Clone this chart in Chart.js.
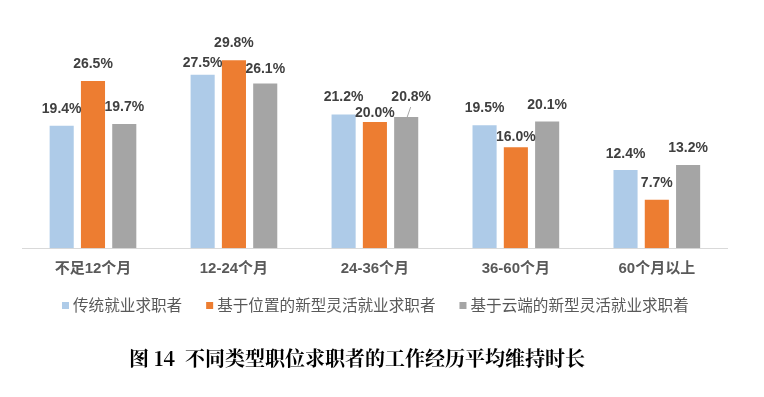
<!DOCTYPE html>
<html>
<head>
<meta charset="utf-8">
<script src="https://cdn.jsdelivr.net/npm/chart.js@4.4.1/dist/chart.umd.min.js"></script>
<style>
  html, body { margin: 0; padding: 0; background: #ffffff; }
  #wrap { width: 764px; height: 397px; position: relative; }
</style>
</head>
<body>
<div id="wrap"><canvas id="c"></canvas></div>
<script>
const categories = ['不足12个月', '12-24个月', '24-36个月', '36-60个月', '60个月以上'];
const seriesNames = ['传统就业求职者', '基于位置的新型灵活就业求职者', '基于云端的新型灵活就业求职着'];
const traditionalValues = [19.4, 27.5, 21.2, 19.5, 12.4];
const locationValues = [26.5, 29.8, 20.0, 16.0, 7.7];
const cloudValues = [19.7, 26.1, 20.8, 20.1, 13.2];
const chartTitle = '图 14  不同类型职位求职者的工作经历平均维持时长';

const colors = ['#AECBE8', '#ED7D31', '#A5A5A5'];

const labelPlugin = {
  id: 'barLabels',
  afterDatasetsDraw(chart) {
    const ctx = chart.ctx;
    const nudges = chart.options.plugins.barLabels.nudges;
    ctx.save();
    ctx.font = 'bold 14px "Liberation Sans", Arial, sans-serif';
    ctx.fillStyle = '#404040';
    ctx.textAlign = 'center';
    ctx.textBaseline = 'middle';
    chart.data.datasets.forEach((ds, di) => {
      const meta = chart.getDatasetMeta(di);
      meta.data.forEach((bar, i) => {
        const n = nudges[di + '-' + i] || {};
        const dy = n.dy !== undefined ? n.dy : 17;
        const dx = n.dx || 0;
        const lx = bar.x + dx;
        const ly = bar.y - dy;
        ctx.fillText(ds.data[i].toFixed(1) + '%', lx, ly);
        if (n.leader) {
          ctx.save();
          ctx.strokeStyle = '#A6A6A6';
          ctx.lineWidth = 1;
          ctx.beginPath();
          ctx.moveTo(lx - 0.5, ly + 10);
          ctx.lineTo(bar.x + 1, bar.y);
          ctx.stroke();
          ctx.restore();
        }
      });
    });
    ctx.restore();
  }
};

const legendTitlePlugin = {
  id: 'legendTitle',
  afterDraw(chart) {
    const ctx = chart.ctx;
    ctx.save();
    // legend
    ctx.font = '15.6px "Noto Sans CJK SC", sans-serif';
    ctx.textBaseline = 'middle';
    ctx.textAlign = 'left';
    let x = 62;
    const yc = 305;
    chart.data.datasets.forEach((ds, i) => {
      ctx.fillStyle = ds.backgroundColor;
      ctx.fillRect(x, yc - 3, 7, 7);
      ctx.fillStyle = '#595959';
      const tx = x + 11;
      ctx.fillText(ds.label, tx, yc);
      x = tx + ctx.measureText(ds.label).width + 24;
    });
    // title
    ctx.font = 'bold 20px "Noto Serif CJK SC", "Noto Sans CJK SC", serif';
    ctx.fillStyle = '#000000';
    ctx.textAlign = 'center';
    ctx.fillText(chartTitle, 357, 358);
    ctx.restore();
  }
};

new Chart(document.getElementById('c'), {
  type: 'bar',
  data: {
    labels: categories,
    datasets: [
      { label: seriesNames[0], data: traditionalValues, backgroundColor: colors[0] },
      { label: seriesNames[1], data: locationValues, backgroundColor: colors[1] },
      { label: seriesNames[2], data: cloudValues, backgroundColor: colors[2] }
    ]
  },
  options: {
    responsive: true,
    maintainAspectRatio: false,
    animation: false,
    events: [],
    layout: { padding: { left: 22.5, right: 36.7, top: 27.4, bottom: 118.7 } },
    datasets: { bar: { categoryPercentage: 0.666, barPercentage: 0.77 } },
    scales: {
      x: {
        grid: { display: false, drawTicks: false },
        border: { display: true, color: '#D9D9D9', width: 1 },
        ticks: {
          color: '#595959',
          padding: 12,
          font: { family: '"Liberation Sans", "Noto Sans CJK SC", sans-serif', size: 15, weight: 'bold' }
        },
        afterFit(scale) { scale.height = 30; }
      },
      y: { display: false, min: 0, max: 35 }
    },
    plugins: {
      legend: { display: false },
      title: { display: false },
      tooltip: { enabled: false },
      barLabels: {
        nudges: {
          '0-1': { dy: 12 },
          '2-1': { dy: 14 },
          '1-2': { dy: 9 },
          '2-2': { dy: 20, dx: 5, leader: true },
          '1-3': { dy: 10 },
          '2-3': { dy: 16 },
          '0-4': { dy: 16 }
        }
      }
    }
  },
  plugins: [labelPlugin, legendTitlePlugin]
});
</script>
</body>
</html>
